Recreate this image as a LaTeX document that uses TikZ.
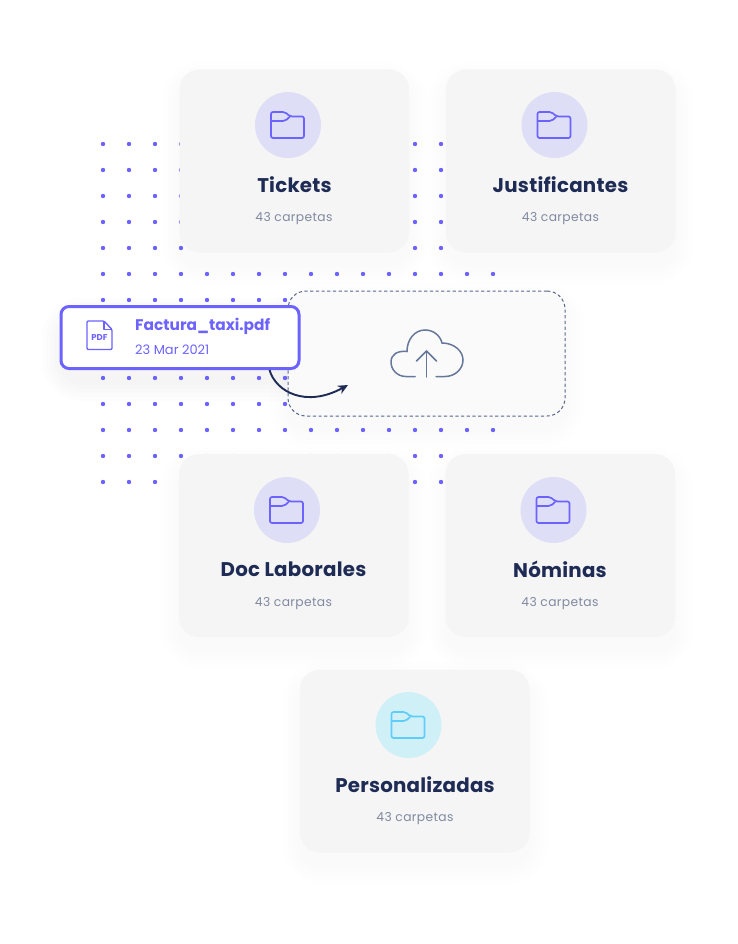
\documentclass[tikz,border=0pt]{standalone}
\usepackage{fontspec}
\setmainfont{Poppins}
\newfontfamily\titfont[LetterSpace=1.2]{Poppins}
\newfontfamily\subfont[LetterSpace=3]{Poppins}
\usetikzlibrary{arrows.meta}
\definecolor{cardfill}{HTML}{F5F5F5}
\definecolor{zonefill}{HTML}{FAFAFB}
\definecolor{violet}{HTML}{6C63FF}
\definecolor{violetpale}{HTML}{DFDEF7}
\definecolor{teal}{HTML}{5FCDF9}
\definecolor{tealpale}{HTML}{D0F0F7}
\definecolor{navy}{HTML}{1E2B54}
\definecolor{subgrey}{HTML}{8089A0}
\definecolor{slate}{HTML}{66789A}
\definecolor{dashslate}{HTML}{56688C}
\tikzset{
  cardbox/.style={fill=cardfill,rounded corners=20pt,minimum width=229.5pt,minimum height=183pt,inner sep=0pt},
  iconcircle/.style={circle,fill=#1,minimum size=66pt,inner sep=0pt},
  cardtitle/.style={text=navy,inner sep=0pt,font=\titfont\bfseries\fontsize{19.8}{24}\selectfont},
  cardsub/.style={text=subgrey,inner sep=0pt,font=\subfont\fontsize{12.3}{14}\selectfont},
  griddot/.style={fill=violet},
  folderline/.style={draw=#1,line width=1.7pt,line join=round},
  pics/folder/.style={code={
    \draw[folderline=#1,rounded corners=2pt] (-17,-4) -- (-17,-13) -- (-3,-13) -- (2,-8.5) -- (16,-8.5) -- (16,13) -- (-17,13) -- cycle;
    \draw[folderline=#1] (-17,-4) -- (-5,-4) .. controls (-2,-4) and (0,-6.5) .. (2,-8.5);
  }}
}
\newcommand{\softshadow}[4]{%
  \foreach \i in {1,...,5}{
    \pgfmathsetmacro{\rr}{20+4*\i}
    \fill[black,opacity=0.004,rounded corners=\rr pt] (#1-4*\i+2,#2-4*\i+12) rectangle (#3+4*\i-2,#4+4*\i+12);
  }}
\begin{document}
\begin{tikzpicture}[x=1pt,y=-1pt]
\useasboundingbox (0,0) rectangle (737,944);
\fill[white] (0,0) rectangle (737,944);
% shadows
\softshadow{179.5}{70}{409}{252}
\softshadow{446}{70}{675.5}{252}
\softshadow{179}{455}{408.5}{637}
\softshadow{445.5}{455}{675}{637}
\softshadow{300}{670}{529.5}{852}
\softshadow{288}{291}{565}{416}
\softshadow{60}{306}{300}{369}
\softshadow{60}{306}{300}{369}
% dot grid
\foreach \c in {0,...,15}{
  \foreach \r in {0,...,13}{
    \fill[griddot] (103+26*\c,144+26*\r) circle[radius=2.2];
  }}
% cards
\node[cardbox] (ticketscard) at (294.25,161) {};
\node[cardbox] (justcard) at (560.75,161) {};
\node[cardbox] (doccard) at (293.75,545.5) {};
\node[cardbox] (nomcard) at (560.25,545.5) {};
\node[cardbox] (perscard) at (414.75,761) {};
% circles and folders
\node[iconcircle=violetpale] (ticketsicon) at (288,125) {};
\node[iconcircle=violetpale] (justicon) at (554.5,125) {};
\node[iconcircle=violetpale] (docicon) at (287,510) {};
\node[iconcircle=violetpale] (nomicon) at (553.5,510) {};
\node[iconcircle=tealpale] (persicon) at (408.5,725) {};
\pic at (ticketsicon.center) {folder=violet};
\pic at (justicon.center) {folder=violet};
\pic at (docicon.center) {folder=violet};
\pic at (nomicon.center) {folder=violet};
\pic at (persicon.center) {folder=teal};
% card text
\node[cardtitle] (tickets) at (294.5,184.5) {Tickets};
\node[cardsub] (ticketssub) at (294,219) {43 carpetas};
\node[cardtitle] (just) at (560.5,184.5) {Justificantes};
\node[cardsub] (justsub) at (560.5,219) {43 carpetas};
\node[cardtitle] (doc) at (293.5,569.5) {Doc Laborales};
\node[cardsub] (docsub) at (293.5,604) {43 carpetas};
\node[cardtitle] (nom) at (560,569) {Nóminas};
\node[cardsub] (nomsub) at (560,604) {43 carpetas};
\node[cardtitle] (pers) at (415,785) {Personalizadas};
\node[cardsub] (perssub) at (415,819) {43 carpetas};
% upload zone
\node[fill=zonefill,draw=dashslate,line width=1pt,dash pattern=on 3.2pt off 2.5pt,rounded corners=18pt,minimum width=277pt,minimum height=125pt,inner sep=0pt] (zone) at (426.5,353.5) {};
% cloud
\draw[slate,line width=1.5pt,line cap=round] (415,376.5) -- (406,376.5) .. controls (397,376.5) and (391,369.5) .. (391,362) .. controls (391,354) and (398,350.5) .. (407,351.5) .. controls (407,339) and (415,330) .. (425,330) .. controls (433,330) and (440,335) .. (442,343) .. controls (454,343) and (463,351) .. (463,360) .. controls (463,369) and (455,376.5) .. (445,376.5) -- (436,376.5);
\draw[slate,line width=1.5pt,line cap=round] (426.5,377) -- (426.5,351);
\draw[slate,line width=1.5pt,line cap=round,line join=round] (416.5,361) -- (426.5,351) -- (436.5,361);
% file card
\node[fill=white,draw=violet,line width=3pt,rounded corners=8pt,minimum width=238pt,minimum height=62pt,inner sep=0pt] (filecard) at (180,337.5) {};
\draw[violet,line width=1.4pt,line join=round,rounded corners=1.2pt] (104,321) -- (87,321) -- (87,349.5) -- (112,349.5) -- (112,329.5) -- cycle;
\draw[violet,line width=1.4pt,line join=round] (104,321) -- (104,329.5) -- (112,329.5);
\node[text=violet,inner sep=0pt,font=\bfseries\fontsize{8.5}{10}\selectfont] (pdflabel) at (99.5,338) {PDF};
\node[text=violet,anchor=west,inner sep=0pt,font=\bfseries\fontsize{15.4}{18}\selectfont] (filename) at (135,326) {Factura\_taxi.pdf};
\node[text=violet,anchor=west,inner sep=0pt,font=\fontsize{13}{14}\selectfont] (filedate) at (135,349.5) {23 Mar 2021};
% arrow
\coordinate (arrowstart) at (269.5,370);
\coordinate (arrowend) at (348,385);
\draw[navy,line width=1.9pt,-{Stealth[length=10pt,width=9pt]}] (arrowstart) .. controls (276,392) and (306,408) .. (arrowend);
\end{tikzpicture}
\end{document}
